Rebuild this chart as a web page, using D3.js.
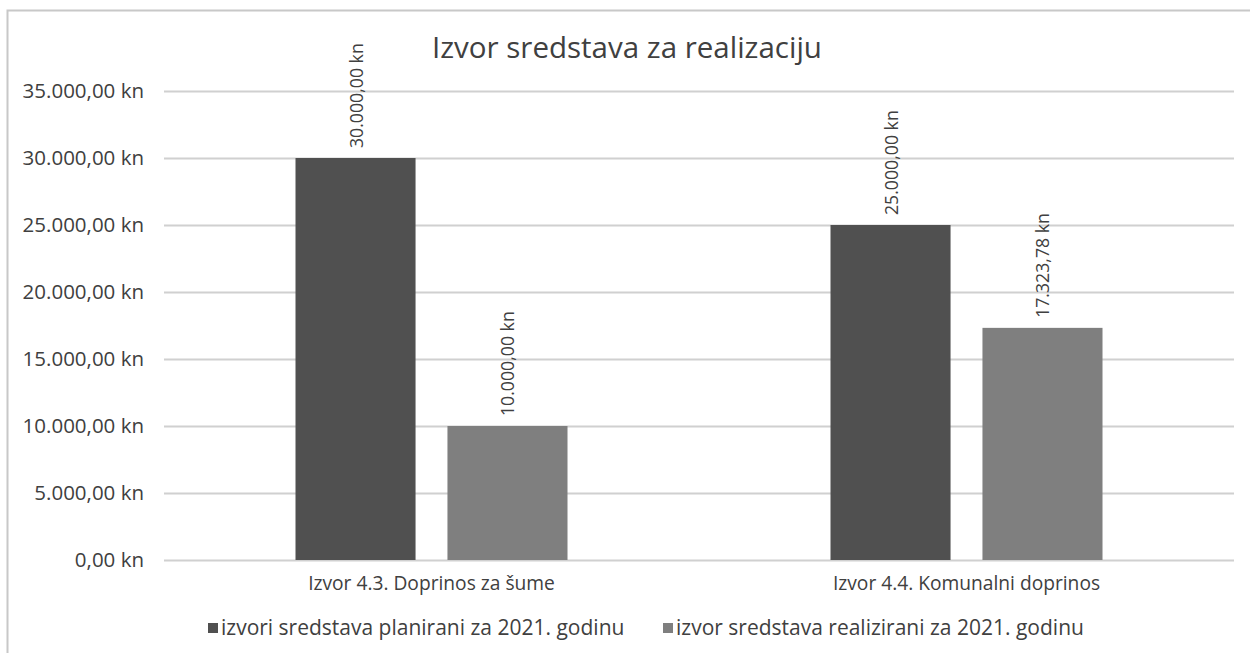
<!DOCTYPE html>
<html lang="hr">
    <head>
        <meta charset="utf-8">
        <title>Izvor sredstava za realizaciju</title>
        <script src="https://cdn.jsdelivr.net/npm/d3@7"></script>
        <style>
            body { margin: 0; background: #fff; }
            text { fill: #404040; font-family: 'Open Sans', sans-serif; }
        </style>
    </head>
    <body>
        <script>
            // data
            var categories = ["Izvor 4.3. Doprinos za šume", "Izvor 4.4. Komunalni doprinos"];
            var seriesNames = ["izvori sredstava planirani za 2021. godinu", "izvor sredstava realizirani za 2021. godinu"];
            var planned = [30000, 25000];
            var realized = [10000, 17323.78];
            var yTicks = [0, 5000, 10000, 15000, 20000, 25000, 30000, 35000];

            var colors = ["#505050", "#7f7f7f"];

            var w = 1250;
            var h = 653;
            var plotLeft = 164, plotRight = 1234, plotTop = 91, plotBottom = 560;
            var groupW = 272;

            var svg = d3.select("body")
                        .append("svg")
                          .attr("width", w)
                          .attr("height", h);

            // chart frame (cut off at right and bottom)
            svg.append("path")
               .attr("d", "M7.5," + h + "V10.5H" + w)
               .attr("fill", "none")
               .attr("stroke", "#c8c8c8")
               .attr("stroke-width", 2);

            // number format: 30.000,00 kn
            var hr = d3.formatLocale({decimal: ",", thousands: ".", grouping: [3], currency: ["", " kn"]});
            var fmt = hr.format(",.2f");
            function kn(v) { return fmt(v) + " kn"; }

            var yScale = d3.scaleLinear()
                           .domain([0, 35000])
                           .range([plotBottom, plotTop]);

            var x0 = d3.scaleBand()
                       .domain(categories)
                       .range([plotLeft, plotRight]);

            var x1 = d3.scaleBand()
                       .domain([0, 1])
                       .range([0, groupW])
                       .paddingInner(0.21);

            // gridlines
            svg.append("g")
               .selectAll("line")
               .data(yTicks)
               .enter()
                 .append("line")
                 .attr("x1", plotLeft)
                 .attr("x2", plotRight)
                 .attr("y1", function(d) { return Math.round(yScale(d)) + 0.5; })
                 .attr("y2", function(d) { return Math.round(yScale(d)) + 0.5; })
                 .attr("stroke", "#d0d0d0")
                 .attr("stroke-width", 2);

            // y axis
            var y_axis = d3.axisLeft(yScale)
                           .tickValues(yTicks)
                           .tickSize(0)
                           .tickPadding(20)
                           .tickFormat(kn);

            svg.append("g")
               .attr("transform", "translate(" + plotLeft + ",0)")
               .call(y_axis)
               .call(function(g) { g.select(".domain").remove(); })
               .selectAll("text")
                 .style("font-family", "'Open Sans'")
                 .style("font-size", "20.5px")
                 .attr("fill", "#404040");

            // bars
            var rows = categories.map(function(c, i) {
                return {cat: c, values: [planned[i], realized[i]]};
            });

            var groups = svg.selectAll(".grp")
                            .data(rows)
                            .enter()
                              .append("g")
                              .attr("class", "grp")
                              .attr("transform", function(d) {
                                  return "translate(" + (x0(d.cat) + (x0.bandwidth() - groupW) / 2) + ",0)";
                              });

            groups.selectAll("rect")
                  .data(function(d) { return d.values; })
                  .enter()
                    .append("rect")
                    .attr("x", function(d, i) { return x1(i); })
                    .attr("width", x1.bandwidth())
                    .attr("y", function(d) { return yScale(d); })
                    .attr("height", function(d) { return plotBottom - yScale(d); })
                    .attr("fill", function(d, i) { return colors[i]; });

            // value labels, rotated
            groups.selectAll(".lbl")
                  .data(function(d) { return d.values; })
                  .enter()
                    .append("text")
                    .attr("class", "lbl")
                    .attr("transform", function(d, i) {
                        return "translate(" + (x1(i) + x1.bandwidth() / 2 + 7) + "," + (yScale(d) - 10) + ") rotate(-90)";
                    })
                    .attr("text-anchor", "start")
                    .style("font-size", "17.7px")
                    .text(function(d) { return kn(d); });

            // category labels
            svg.selectAll(".cat")
               .data(categories)
               .enter()
                 .append("text")
                 .attr("class", "cat")
                 .attr("x", function(d) { return x0(d) + x0.bandwidth() / 2; })
                 .attr("y", 590)
                 .attr("text-anchor", "middle")
                 .style("font-size", "19.2px")
                 .text(function(d) { return d; });

            // title
            svg.append("text")
               .attr("x", 627)
               .attr("y", 58)
               .attr("text-anchor", "middle")
               .style("font-size", "29.5px")
               .text("Izvor sredstava za realizaciju");

            // legend
            var legendX = [208, 663];
            var legend = svg.selectAll(".leg")
                            .data(seriesNames)
                            .enter()
                              .append("g")
                              .attr("class", "leg")
                              .attr("transform", function(d, i) { return "translate(" + legendX[i] + ",623)"; });

            legend.append("rect")
                  .attr("width", 10)
                  .attr("height", 10)
                  .attr("fill", function(d, i) { return colors[i]; });

            legend.append("text")
                  .attr("x", 13)
                  .attr("y", 12)
                  .style("font-size", "21px")
                  .text(function(d) { return d; });
        </script>
    </body>
</html>
